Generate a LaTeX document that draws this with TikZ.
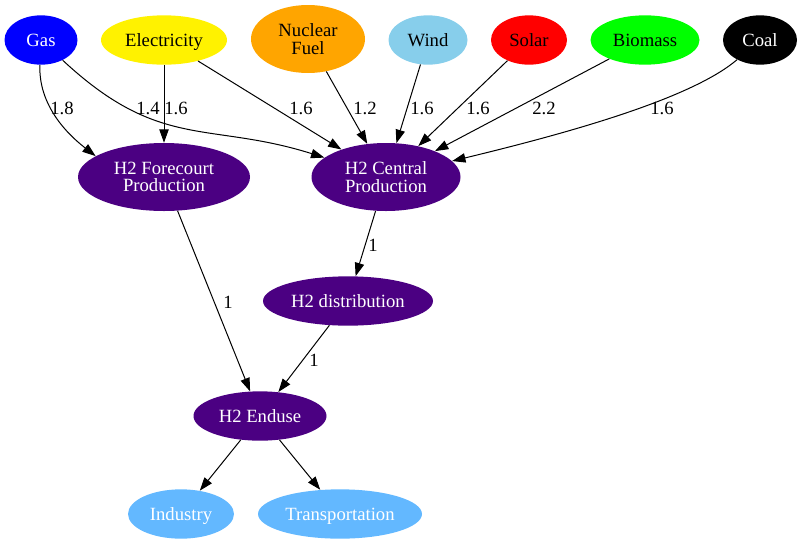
\documentclass[tikz,border=0pt]{standalone}
\usepackage{fontspec}
\setmainfont{Liberation Serif}
\usepackage{tikz}
\usetikzlibrary{%
  shapes.geometric,%
  arrows.meta%
}
\definecolor{hindigo}{HTML}{4B0082}
\definecolor{sky}{HTML}{87CEEB}
\definecolor{nucl}{HTML}{FFA500}
\definecolor{lime}{HTML}{00FF00}
\definecolor{steel}{HTML}{63B8FF}

\begin{document}
\begin{tikzpicture}[x=0.75pt,y=-0.75pt,
  every node/.style={font=\fontsize{14}{13}\selectfont},
  blob/.style={ellipse,inner sep=0pt,minimum height=37pt,align=center},
  one/.style={text height=12pt,text depth=2pt},
  hyd/.style={blob,fill=hindigo,text=white},
  use/.style={blob,one,fill=steel,text=white},
  wgt/.style={inner sep=0pt},
  flow/.style={line width=0.75pt,-{Triangle[length=10pt,width=7pt]}}]

\useasboundingbox (0,0) rectangle (801,544);

% sources
\node[blob,one,fill=blue,text=white,minimum width=54.75pt] (gas) at (41,40) {Gas};
\node[blob,one,fill=yellow,minimum width=94.5pt] (elec) at (164,40) {Electricity};
\node[blob,fill=nucl,minimum width=85.5pt,minimum height=51pt] (nuc) at (308,39) {Nuclear\\Fuel};
\node[blob,one,fill=sky,minimum width=59.25pt] (wind) at (428,40) {Wind};
\node[blob,one,fill=red,minimum width=57pt] (solar) at (529,40) {Solar};
\node[blob,one,fill=lime,minimum width=81.75pt] (bio) at (645,40) {Biomass};
\node[blob,one,fill=black,text=white,minimum width=55.5pt] (coal) at (760,40) {Coal};

% hydrogen chain
\node[hyd,minimum width=129pt,minimum height=51pt] (fore) at (164,177) {H2 Forecourt\\Production};
\node[hyd,minimum width=111.75pt,minimum height=51pt] (cent) at (386,177) {H2 Central\\Production};
\node[hyd,one,minimum width=127.5pt] (dist) at (348,301) {H2 distribution};
\node[hyd,one,minimum width=99.75pt] (end) at (260,416) {H2 Enduse};

% end uses
\node[use,minimum width=79.5pt] (ind) at (181,514) {Industry};
\node[use,minimum width=123pt] (trans) at (340,514) {Transportation};

\draw[flow] (gas) .. controls (38,110) and (75,140) .. (fore.163) node[wgt] at (62,108) {1.8};
\draw[flow] (gas) .. controls (160,151) and (208,121) .. (cent) node[wgt] at (148,108) {1.4};
\draw[flow] (elec) -- (fore) node[wgt] at (176,108) {1.6};
\draw[flow] (elec) -- (cent) node[wgt] at (301,108) {1.6};
\draw[flow] (nuc) -- (cent) node[wgt] at (365,108) {1.2};
\draw[flow] (wind) -- (cent) node[wgt] at (422,108) {1.6};
\draw[flow] (solar) -- (cent) node[wgt] at (478,108) {1.6};
\draw[flow] (bio) -- (cent) node[wgt] at (544,108) {2.2};
\draw[flow] (coal) .. controls (690,100) and (560,135) .. (cent) node[wgt] at (662,108) {1.6};

\draw[flow] (cent) -- (dist) node[wgt] at (373,245) {1};
\draw[flow] (fore) -- (end) node[wgt] at (228,302) {1};
\draw[flow] (dist) -- (end) node[wgt] at (314,360) {1};

\draw[flow] (end) -- (ind);
\draw[flow] (end) -- (trans);

\end{tikzpicture}
\end{document}
